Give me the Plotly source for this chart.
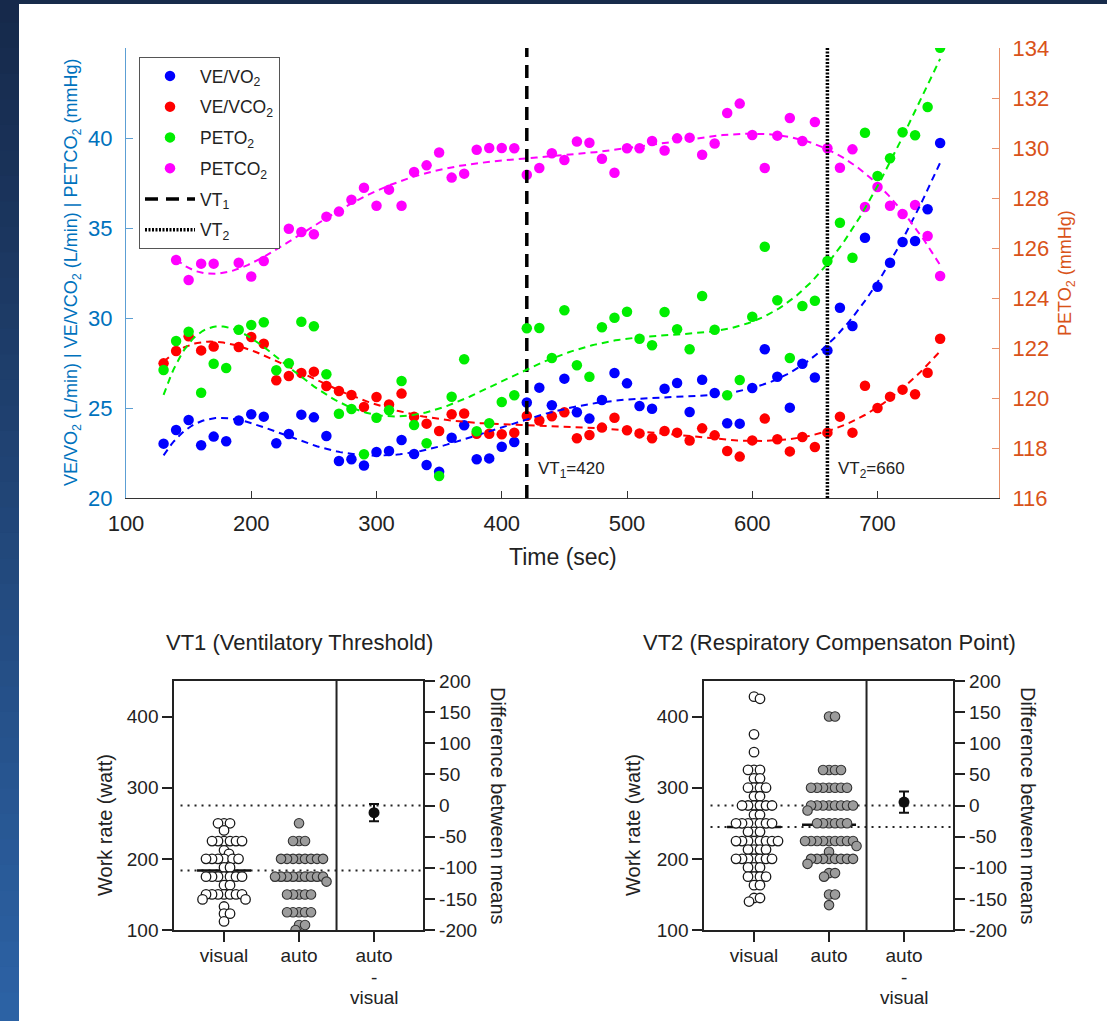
import numpy as np
import plotly.graph_objects as go

W, H = 1107, 1021

# ---------------- top chart data ----------------
time_s = list(range(130, 751, 10))
ve_vo2 = [23.02, 23.78, 24.33, 22.93, 23.41, 23.15, 24.31, 24.65, 24.52, 23.04,
          23.56, 24.63, 24.48, 23.44, 22.06, 22.15, 21.81, 22.56, 22.61, 23.22,
          22.44, 21.83, 21.46, 23.35, 24.04, 22.15, 22.20, 22.85, 23.11, 25.31,
          26.13, 25.15, 26.63, 24.76, 24.41, 25.44, 26.94, 26.37, 25.11, 24.96,
          26.07, 26.39, 24.78, 26.57, 25.83, 24.15, 24.13, 26.11, 28.26, 26.74,
          25.02, 27.46, 26.69, 28.20, 30.57, 29.56, 34.46, 31.74, 33.07, 34.22,
          34.28, 36.04, 39.72]
ve_vco2 = [27.48, 28.17, 28.98, 28.20, 28.41, None, 28.39, 28.94, 28.57, 26.54,
           26.78, 26.94, 27.02, 26.22, 25.94, 25.72, 25.06, 25.61, 25.20, 25.80,
           24.52, 24.13, 23.72, 24.65, 24.69, 23.57, 23.57, 23.54, 23.63, 24.56,
           24.31, 24.54, 24.76, 23.32, 23.50, 23.91, 24.46, 23.76, 23.59, 23.32,
           23.72, 23.63, 23.19, 23.87, 23.48, 22.61, 22.30, 23.20, 24.41, 23.26,
           22.59, 23.39, 22.83, 23.63, 24.52, 23.63, 26.24, 25.00, 25.63, 26.02,
           25.76, 26.96, 28.85]
peto2 = [121.12, 122.28, 122.65, 120.21, 121.37, 121.20, 122.73, 122.92, 123.03, 121.11,
         121.39, 123.05, 122.87, 120.95, 119.37, 119.56, 117.75, 119.21, 119.51, 120.68,
         118.92, 118.19, 116.88, 120.05, 121.55, 118.67, 118.99, 119.84, 120.11, 122.79,
         122.80, 121.60, 123.51, 121.31, 120.85, 122.83, 123.21, 123.45, 122.37, 122.11,
         123.44, 122.75, 121.95, 124.08, 122.73, 120.11, 120.72, 123.25, 126.05, 123.91,
         121.60, 123.68, 123.89, 125.48, 127.01, 125.61, 130.61, 128.88, 129.59, 130.63,
         130.51, 131.64, 134.01]
petco2 = [None, 33.22, 32.11, 33.02, 33.02, None, 33.07, 32.31, 33.17, None,
          34.96, 34.78, 34.65, 35.63, 35.91, 36.57, 37.24, 36.24, 37.13, 36.24,
          38.11, 38.48, 39.19, 37.80, 38.02, 39.35, 39.44, 39.44, 39.43, 37.96,
          38.33, 39.15, 38.78, 39.81, 39.74, 38.85, 38.07, 39.43, 39.43, 39.83,
          39.31, 39.98, 40.02, 39.07, 39.69, 41.39, 41.91, 40.17, 38.33, 40.13,
          41.11, 39.83, 40.89, 39.43, 38.35, 39.37, 36.17, 37.28, 36.24, 35.78,
          36.28, 34.56, 32.33]
vt1_time = 420
vt2_time = 660

# ---------------- bottom panels data ----------------
vt1_visual = ([250] * 3 + [240] + [225] * 6 + [212, 207] + [200] * 6 + [188] * 2 +
              [175] * 7 + [163] * 2 + [150] * 7 + [143] * 2 + [133] + [123] * 2 + [112])
vt1_auto = ([250] + [225] * 3 + [200] * 8 + [175] * 9 + [168] + [150] * 5 +
            [125] * 5 + [107] * 2 + [100])
vt2_visual = ([428, 425, 375, 350] + [325] * 3 + [313] * 2 + [300] * 4 + [288] * 2 +
              [275] * 6 + [262] * 2 + [250] * 7 + [238] * 3 + [225] * 8 + [213] * 4 +
              [200] * 7 + [188] * 3 + [175] * 4 + [163] * 2 + [145] * 2 + [140])
vt2_auto = ([400] * 2 + [325] * 4 + [300] * 7 + [275] * 8 + [268] + [250] * 6 +
            [225] * 9 + [218, 210] + [200] * 8 + [193] + [180] * 2 + [175] +
            [150] * 2 + [135])
vt1_diff_mean, vt1_diff_err = -11.5, 14.0
vt2_diff_mean, vt2_diff_err = 5.5, 17.0
group_labels = ["visual", "auto", "auto"]
diff_label_extra = ["-", "visual"]

FONT = "Arial, Liberation Sans, sans-serif"
BLUE_AX = "#0072BD"
ORANGE_AX = "#D95319"

fig = go.Figure()


def clean(t, v):
    tt = [a for a, b in zip(t, v) if b is not None]
    vv = [b for b in v if b is not None]
    return np.array(tt, float), np.array(vv, float)


def fit_curve(t, v, deg=6):
    tt, vv = clean(t, v)
    u = (tt - 440.0) / 310.0
    coef = np.polyfit(u, vv, deg)
    tg = np.linspace(tt.min(), tt.max(), 300)
    return tg, np.polyval(coef, (tg - 440.0) / 310.0)


series = [
    ("VE/VO<sub>2</sub>", ve_vo2, "#0000FF", "y"),
    ("VE/VCO<sub>2</sub>", ve_vco2, "#FF0000", "y"),
    ("PETO<sub>2</sub>", peto2, "#00EE00", "y2"),
    ("PETCO<sub>2</sub>", petco2, "#FF00FF", "y"),
]
for i, (name, vals, col, ax) in enumerate(series):
    tt, vv = clean(time_s, vals)
    fig.add_trace(go.Scatter(x=tt, y=vv, mode="markers", name=name, yaxis=ax, xaxis="x",
                             marker=dict(size=10.5, color=col), legendgroup="g%d" % i))
for i, (name, vals, col, ax) in enumerate(series):
    tg, fg = fit_curve(time_s, vals)
    fig.add_trace(go.Scatter(x=tg, y=fg, mode="lines", yaxis=ax, xaxis="x", showlegend=False,
                             line=dict(color=col, width=2, dash="7px,5px"), hoverinfo="skip"))

yl_range = [20, 45]
yr_range = [116, 134]
fig.add_trace(go.Scatter(x=[vt1_time, vt1_time], y=yl_range, mode="lines", name="VT<sub>1</sub>",
                         xaxis="x", yaxis="y", legendgroup="g4",
                         line=dict(color="black", width=3.5, dash="13px,8px")))
fig.add_trace(go.Scatter(x=[vt2_time, vt2_time], y=yl_range, mode="lines", name="VT<sub>2</sub>",
                         xaxis="x", yaxis="y", legendgroup="g5",
                         line=dict(color="black", width=3.5, dash="2px,1.5px")))


# ---------------- swarm helper ----------------
def swarm(values, center, px_x, px_y, gap=6.0):
    order = sorted(range(len(values)), key=lambda i: -values[i])
    placed = []
    xs = [0.0] * len(values)
    cands = [0.0]
    for n in range(1, 400):
        cands += [n * 0.5, -n * 0.5]
    for i in order:
        yv = values[i] * px_y
        for c in cands:
            if all((c - a) ** 2 + (yv - b) ** 2 >= gap ** 2 for a, b in placed):
                break
        placed.append((c, yv))
        xs[i] = center + c / px_x
    return xs


panels = [
    dict(xa="x2", ya="y3", yb="y4", dom=[174.3 / W, 423.3 / W],
         vis=vt1_visual, aut=vt1_auto, dm=vt1_diff_mean, de=vt1_diff_err),
    dict(xa="x3", ya="y5", yb="y6", dom=[704.3 / W, 953.3 / W],
         vis=vt2_visual, aut=vt2_auto, dm=vt2_diff_mean, de=vt2_diff_err),
]
ydom = [1 - 930 / H, 1 - 681 / H]
xr = [0.337, 3.657]
wr = [100, 450]
dr = [-200, 200]
divider_x = 2.5
ref_zero = wr[0] + (0 - dr[0]) / (dr[1] - dr[0]) * (wr[1] - wr[0])

for p in panels:
    px_x = (p["dom"][1] - p["dom"][0]) * W / (xr[1] - xr[0])
    px_y = (ydom[1] - ydom[0]) * H / (wr[1] - wr[0])
    vmean = float(np.mean(p["vis"]))
    amean = float(np.mean(p["aut"]))
    for yy in (ref_zero, vmean):
        fig.add_trace(go.Scatter(x=[0.42, xr[1]], y=[yy, yy], mode="lines", xaxis=p["xa"], yaxis=p["ya"],
                                 showlegend=False, line=dict(color="#222", width=2, dash="2px,5px")))
    for c, m in ((1, vmean), (2, amean)):
        fig.add_trace(go.Scatter(x=[c - 0.36, c + 0.36], y=[m, m], mode="lines", xaxis=p["xa"],
                                 yaxis=p["ya"], showlegend=False, line=dict(color="#111", width=2.5)))
    fig.add_trace(go.Scatter(x=swarm(p["vis"], 1, px_x, px_y), y=p["vis"], mode="markers",
                             xaxis=p["xa"], yaxis=p["ya"], showlegend=False,
                             marker=dict(size=9.5, color="white", line=dict(color="#1a1a1a", width=1.3))))
    fig.add_trace(go.Scatter(x=swarm(p["aut"], 2, px_x, px_y), y=p["aut"], mode="markers",
                             xaxis=p["xa"], yaxis=p["ya"], showlegend=False,
                             marker=dict(size=9.5, color="#9c9c9c", line=dict(color="#333", width=1.1))))
    fig.add_trace(go.Scatter(x=[3], y=[p["dm"]], mode="markers", xaxis=p["xa"], yaxis=p["yb"],
                             showlegend=False, marker=dict(size=11, color="#111"),
                             error_y=dict(type="data", array=[p["de"]], width=5, thickness=2, color="#111")))

# ---------------- layout ----------------
axis_font = dict(family=FONT, size=22, color="#222")
layout = dict(
    width=W, height=H, margin=dict(l=0, r=0, t=0, b=0),
    paper_bgcolor="#172b4b", plot_bgcolor="rgba(0,0,0,0)", template="none",
    font=dict(family=FONT, color="#222"),
    showlegend=True,
    legend=dict(x=139 / W, y=1 - 57 / H, xanchor="left", yanchor="top", bgcolor="white",
                bordercolor="#555", borderwidth=1, font=dict(family=FONT, size=17.5, color="#222"),
                tracegroupgap=5, traceorder="grouped", itemwidth=50),
    xaxis=dict(domain=[126 / W, 999 / W], range=[100, 797], anchor="y",
               tickvals=[100, 200, 300, 400, 500, 600, 700], ticks="inside", ticklen=7,
               tickcolor="#333", showline=True, linecolor="#333", linewidth=1,
               tickfont=axis_font, showgrid=False, zeroline=False, ticklabelstandoff=6),
    yaxis=dict(domain=[1 - 498 / H, 1 - 48 / H], range=yl_range, anchor="x",
               tickvals=[20, 25, 30, 35, 40], ticks="inside", ticklen=7, tickcolor="#5c9fd4",
               showline=True, linecolor="#5c9fd4", linewidth=1.2,
               tickfont=dict(family=FONT, size=22, color=BLUE_AX),
               showgrid=False, zeroline=False, ticklabelstandoff=8),
    yaxis2=dict(overlaying="y", side="right", anchor="x", range=yr_range,
                tickvals=list(range(116, 135, 2)), ticks="inside", ticklen=7, tickcolor="#e8916a",
                showline=True, linecolor="#e8916a", linewidth=1.2,
                tickfont=dict(family=FONT, size=22, color=ORANGE_AX),
                showgrid=False, zeroline=False, ticklabelstandoff=8),
)
for k, p in enumerate(panels):
    xn = "xaxis" + p["xa"][1:]
    yn = "yaxis" + p["ya"][1:]
    ybn = "yaxis" + p["yb"][1:]
    layout[xn] = dict(domain=p["dom"], range=xr, anchor=p["ya"], tickvals=[1, 2, 3], ticktext=group_labels,
                      ticks="outside", ticklen=10, tickwidth=2, tickcolor="#222", showline=True,
                      linecolor="#222", linewidth=2, mirror=True, showgrid=False, zeroline=False,
                      tickfont=dict(family=FONT, size=19, color="#222"), ticklabelstandoff=-3)
    layout[yn] = dict(domain=ydom, range=wr, anchor=p["xa"], tickvals=[100, 200, 300, 400],
                      ticks="outside", ticklen=10, tickwidth=2, tickcolor="#222", showline=True,
                      linecolor="#222", linewidth=2, mirror=True, showgrid=False, zeroline=False,
                      tickfont=dict(family=FONT, size=19, color="#222"))
    dvals = list(range(-200, 201, 50))
    layout[ybn] = dict(overlaying=p["ya"], side="right", anchor=p["xa"], range=dr, tickvals=dvals,
                       ticktext=[str(v) for v in dvals], ticks="outside", ticklen=10, tickwidth=2,
                       tickcolor="#222", showline=True, linecolor="#222", linewidth=2,
                       showgrid=False, zeroline=False, tickfont=dict(family=FONT, size=19, color="#222"))

shapes = [dict(type="rect", xref="paper", yref="paper", x0=19 / W, x1=1, y0=0, y1=1 - 4 / H,
               fillcolor="white", line=dict(width=0), layer="below")]
c_top = np.array([0x16, 0x29, 0x4a], float)
c_bot = np.array([0x2d, 0x63, 0xa6], float)
nstrip = 40
for s in range(nstrip):
    f = (s + 0.5) / nstrip
    col = c_top + (c_bot - c_top) * f
    shapes.append(dict(type="rect", xref="paper", yref="paper", x0=0, x1=19 / W,
                       y1=min(1.0, 1 - s / nstrip + 0.003), y0=max(0.0, 1 - (s + 1) / nstrip - 0.003),
                       fillcolor="rgb(%d,%d,%d)" % tuple(col), line=dict(width=0), layer="below"))
for p in panels:
    shapes.append(dict(type="line", xref=p["xa"], yref=p["ya"] + " domain", x0=divider_x, x1=divider_x,
                       y0=0, y1=1, line=dict(color="#222", width=2)))
layout["shapes"] = shapes


def pa(text, x, y, size, color="#222", angle=0, xanchor="center"):
    return dict(text=text, x=x / W, y=1 - y / H, xref="paper", yref="paper", showarrow=False,
                textangle=angle, xanchor=xanchor, yanchor="middle",
                font=dict(family=FONT, size=size, color=color))


ann = []
ann.append(pa("VE/VO<sub>2</sub> (L/min) | VE/VCO<sub>2</sub> (L/min) | PETCO<sub>2</sub> (mmHg)",
              72, 273, 18, BLUE_AX, -90))
ann.append(pa("PETO<sub>2</sub> (mmHg)", 1066, 273, 18, ORANGE_AX, -90))
ann.append(pa("Time (sec)", 562.5, 557, 23))
for vt, lab in ((vt1_time, "VT<sub>1</sub>=%d"), (vt2_time, "VT<sub>2</sub>=%d")):
    ann.append(dict(text=lab % vt, x=vt, xshift=9, xanchor="left", xref="x",
                    y=1 - 470 / H, yref="paper", yanchor="middle", showarrow=False,
                    font=dict(family=FONT, size=17, color="#222")))
titles = [("VT1 (Ventilatory Threshold)", 299, 105, 498),
          ("VT2 (Respiratory Compensaton Point)", 829, 633, 1028)]
for t, cx, wx, dx in titles:
    ann.append(pa(t, cx, 642, 22))
    ann.append(pa("Work rate (watt)", wx, 825, 20, angle=-90))
    ann.append(pa("Difference between means", dx, 806, 20, angle=90))
for p in panels:
    for txt, yy in zip(diff_label_extra, (977, 997)):
        ann.append(dict(text=txt, x=3, xref=p["xa"], y=1 - yy / H, yref="paper", showarrow=False,
                        xanchor="center", yanchor="middle", font=dict(family=FONT, size=19, color="#222")))
layout["annotations"] = ann

fig.update_layout(**layout)
fig.write_html("out.html", post_script="document.body.style.margin='0';",
               config={"displayModeBar": False})
